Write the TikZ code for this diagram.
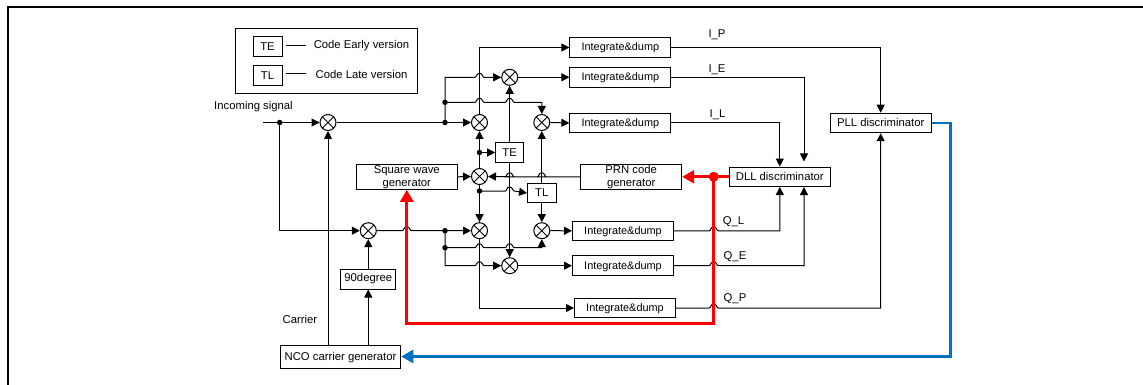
\documentclass[tikz,border=0pt]{standalone}
\usepackage{fontspec}
\setmainfont{Liberation Sans}
\usetikzlibrary{arrows.meta}
\newcommand\hump[2]{-- (#1-4.5,#2) .. controls (#1-3,#2) and (#1-3,#2-4) .. (#1,#2-4) .. controls (#1+3,#2-4) and (#1+3,#2) .. (#1+4.5,#2)}
\definecolor{bl}{HTML}{0070C0}
\tikzset{
  x=1pt,y=-1pt,
  every node/.style={font=\fontsize{11.3}{13}\selectfont,text=black},
  boxn/.style={draw=black,line width=1pt,fill=white,rectangle,inner sep=0pt,align=center,minimum height=19.5pt},
  intb/.style={boxn,minimum width=101pt},
  onel/.style={text depth=1pt},
  intg/.style={intb,onel,font=\fontsize{10.9}{12.7}\selectfont},
  mix/.style={circle,draw=black,line width=1pt,fill=white,minimum size=16pt,inner sep=0pt,
    path picture={\draw[line width=.9pt] (path picture bounding box.north west)--(path picture bounding box.south east)
      (path picture bounding box.north east)--(path picture bounding box.south west);}},
  wire/.style={draw=black,line width=1pt},
  arr/.style={wire,-{Triangle[length=8pt,width=8pt]}},
  jdot/.style={circle,fill=black,inner sep=0pt,minimum size=5.5pt},
  lbl/.style={inner sep=0pt},
  redw/.style={draw=red,line width=2.8pt},
  bluew/.style={draw=bl,line width=2.8pt},
  bigtip/.style={-{Triangle[length=12pt,width=13pt]}},
}
\begin{document}
\begin{tikzpicture}
\useasboundingbox (0,0) rectangle (1143,385);
\draw[line width=2pt,black] (1143,7) -- (8,7) -- (8,385);

% legend
\node[draw=black,line width=1pt,minimum width=182pt,minimum height=65pt,inner sep=0pt] (legend) at (326,61.5) {};
\node[boxn,minimum width=29pt] (ke) at (267.5,46.5) {TE};
\node[boxn,minimum width=29pt] (kl) at (267.5,75.5) {TL};
\node[lbl] (ket) at (361.5,46) {Code Early version};
\node[lbl] (klt) at (361.5,74.5) {Code Late version};
\coordinate (kea) at (286,45.7);
\coordinate (kee) at (306,45.7);
\coordinate (kla) at (286,73.7);
\coordinate (kle) at (306,73.7);
\draw[wire] (kea) -- (kee);
\draw[wire] (kla) -- (kle);

% mixers
\node[mix] (m1) at (328,122.5) {};
\node[mix] (m2) at (479.5,122.5) {};
\node[mix] (m3) at (509.7,77.3) {};
\node[mix] (m4) at (541.8,122.5) {};
\node[mix] (m5) at (479.5,176.5) {};
\node[mix] (m6) at (479.5,230.7) {};
\node[mix] (m7) at (541.8,230.7) {};
\node[mix] (m8) at (509.7,265.7) {};
\node[mix] (m9) at (368.3,230.7) {};

% boxes
\node[intg] (i1) at (620.4,47.5) {Integrate\&dump};
\node[intg] (i2) at (620.4,77.3) {Integrate\&dump};
\node[intg] (i3) at (620.4,123) {Integrate\&dump};
\node[intg] (i4) at (623,230.8) {Integrate\&dump};
\node[intg] (i5) at (623,265.7) {Integrate\&dump};
\node[intg] (i6) at (625,308) {Integrate\&dump};
\node[intb,onel] (pll) at (880.7,123) {PLL discriminator};
\node[intb,onel] (dll) at (779.8,176.8) {DLL discriminator};
\node[intb,minimum height=25pt] (prn) at (631.2,176.8) {PRN code\\generator};
\node[intb,minimum height=25pt] (sq) at (406.8,176.8) {Square wave\\generator};
\node[boxn,minimum width=28pt] (te) at (509.7,152.5) {TE};
\node[boxn,minimum width=28.5pt] (tl) at (541.8,193) {TL};
\node[boxn,minimum width=55pt,minimum height=20pt] (deg) at (368.3,279) {90degree};
\node[boxn,onel,minimum width=120.5pt,minimum height=23pt] (nco) at (340.5,356.5) {NCO carrier generator};

% labels
\node[lbl] (t1) at (253.5,107) {Incoming signal};
\node[lbl] (t2) at (300,319.5) {Carrier};
\node[lbl] (t3) at (717,35) {I\_P};
\node[lbl] (t4) at (717,70) {I\_E};
\node[lbl] (t5) at (717.5,115) {I\_L};
\node[lbl] (t6) at (733.5,222) {Q\_L};
\node[lbl] (t7) at (735,257) {Q\_E};
\node[lbl] (t8) at (735,299) {Q\_P};

% junctions
\node[jdot] (d0) at (279.7,122.5) {};
\coordinate (in) at (263,122.5);
\node[jdot] (d1) at (445,122.5) {};
\node[jdot] (d2) at (445,102.3) {};
\node[jdot] (d3) at (479.5,152.5) {};
\node[jdot] (d4) at (479.5,191) {};
\node[jdot] (d5) at (445,230.7) {};
\node[jdot] (d6) at (445,247.7) {};

% input side
\draw[arr] (in) -- (m1.west);
\draw[arr] (d0.center) |- (m9.west);
\draw[arr] (m1.east) -- (m2.west);
\draw[arr] (d1.center) |- (475,77.3) \hump{479.5}{77.3} -- (m3.west);
\draw[arr] (d2.center) \hump{479.5}{102.3} \hump{509.7}{102.3} -- (m4.north |- d2) -- (m4.north);
\draw[arr] (m2.north) |- (i1.west);
\draw[arr] (m3.east) -- (i2.west);
\draw[arr] (m4.east) -- (i3.west);
\draw[arr] (m5.north) -- (m2.south);
\draw[arr] (d3.center) -- (te.west);
\draw[arr] (te.north) -- (m3.south);
\draw[arr] (te.south) -- (m8.north);
\draw[arr] (sq.east) -- (m5.west);
\draw[arr] (prn.west) \hump{541.8}{176.8} \hump{509.7}{176.8} -- (m5.east);
\draw[arr] (d4.center) \hump{509.7}{191} -- (tl.west);
\draw[arr] (tl.north) -- (m4.south);
\draw[arr] (tl.south) -- (m7.north);
\draw[arr] (m5.south) -- (m6.north);
\draw[arr] (m6.south) |- (i6.west);
\draw[arr] (m9.east) \hump{406.8}{230.7} -- (m6.west);
\draw[arr] (d6.center) \hump{479.5}{247.7} \hump{509.7}{247.7} -- (m7.south |- d6) -- (m7.south);
\draw[arr] (d5.center) |- (475,265.7) \hump{479.5}{265.7} -- (m8.west);
\draw[arr] (m7.east) -- (i4.west);
\draw[arr] (m8.east) -- (i5.west);
% outputs
\draw[arr] (i1.east) -| (pll.north);
\coordinate (dlle) at (804,161.5);
\draw[arr] (i2.east) -| (dlle);
\draw[arr] (i3.east) -| (dll.north);
\draw[arr] (i4.east) \hump{713.7}{230.8} -| (dll.south);
\coordinate (dllf) at (804,187);
\draw[arr] (i5.east) \hump{713.7}{265.7} -| (dllf);
\draw[arr] (i6.east) \hump{713.7}{308} -| (pll.south);
% NCO
\draw[arr] (nco.north -| m1) -- (m1.south);
\draw[arr] (nco.north -| deg) -- (deg.south);
\draw[arr] (deg.north) -- (m9.south);

% thick paths
\node[circle,fill=red,inner sep=0pt,minimum size=10pt] (rd) at (713.7,176.8) {};
\draw[redw,bigtip] (dll.west) -- (prn.east);
\draw[redw,bigtip] (rd.center) -- (713.7,323.3) -| (sq.south);
\draw[bluew,bigtip] (pll.east) -- (950.7,123) |- (nco.east);
\end{tikzpicture}
\end{document}
